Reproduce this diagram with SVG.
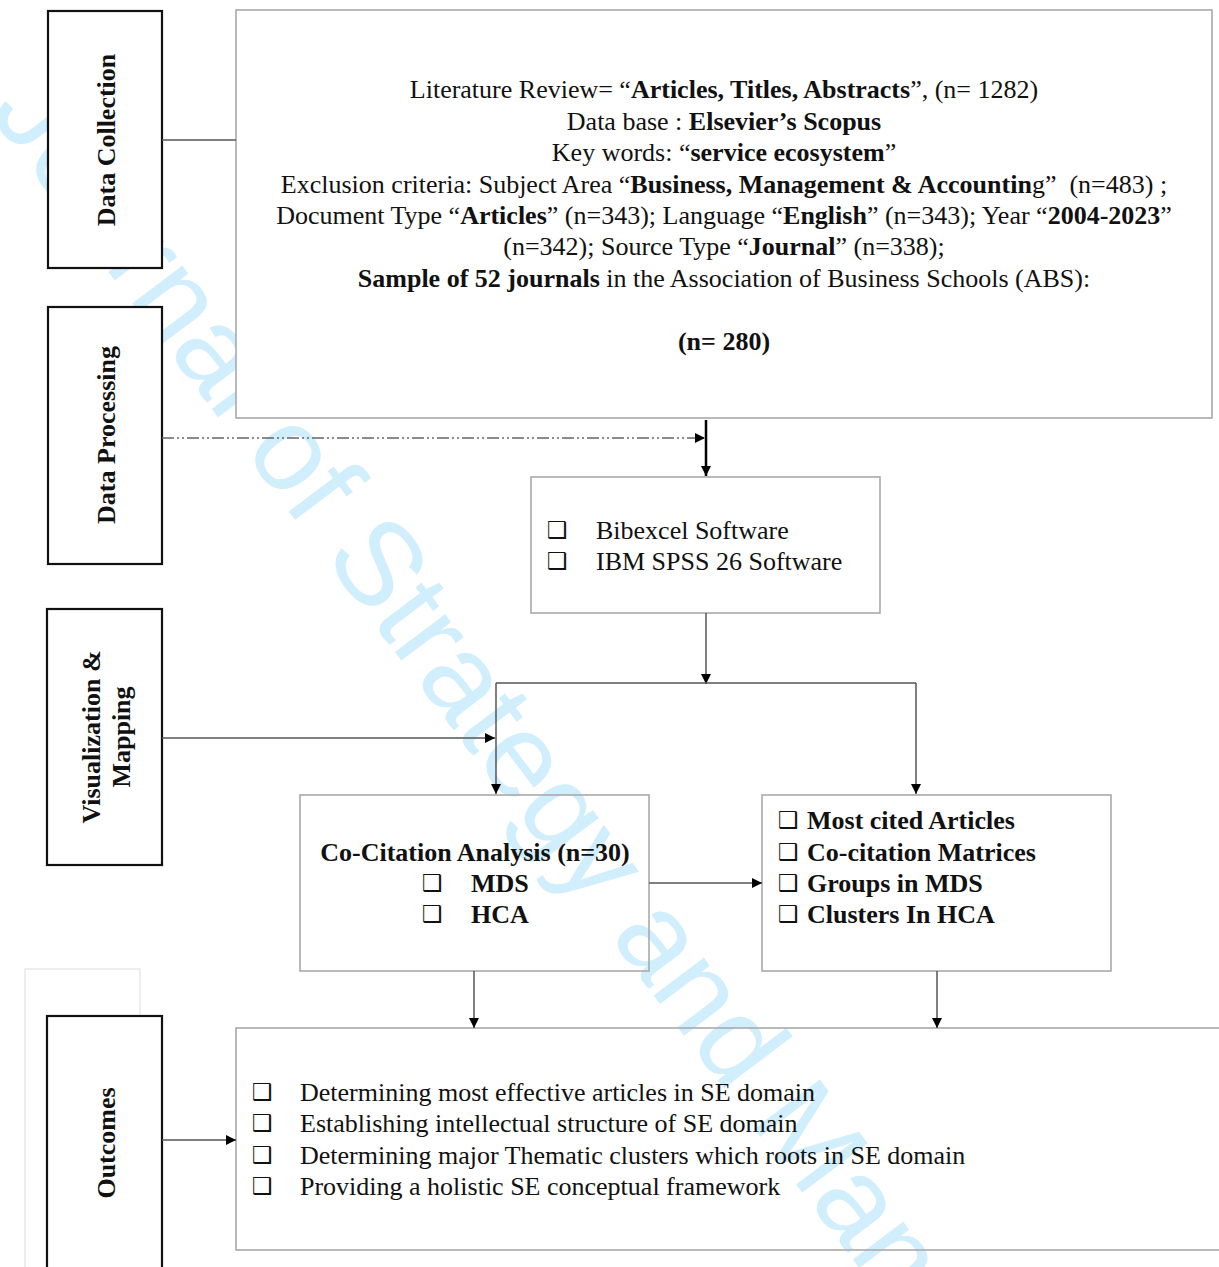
<svg xmlns="http://www.w3.org/2000/svg" width="1219" height="1267" viewBox="0 0 1219 1267">
<style>
.stage{fill:#fff;stroke:#111;stroke-width:2.2}
.box{fill:none;stroke:#a9a9a9;stroke-width:1.6}
.boxw{fill:#fff;stroke:#a9a9a9;stroke-width:1.6}
.t{font-family:"Liberation Serif","Times New Roman",serif;font-size:26px;fill:#111}
.b{font-weight:bold}
.lbl{font-family:"Liberation Serif","Times New Roman",serif;font-size:26px;font-weight:bold;fill:#111;text-anchor:middle}
.cb{font-family:"DejaVu Sans",sans-serif;font-size:23px;fill:#111}
.c{text-anchor:middle}
.ln{fill:none;stroke:#555;stroke-width:1.5}
.wm{font-family:"Liberation Sans",Arial,sans-serif;font-size:119px;fill:#d0eefc}
</style>
<defs>
<marker id="ah" markerUnits="userSpaceOnUse" markerWidth="11" markerHeight="11" refX="10" refY="5" orient="auto">
<path d="M0,0 L10,5 L0,10 z" fill="#000"/>
</marker>
</defs>
<rect width="1219" height="1267" fill="#fff"/>

<text class="wm" transform="translate(-12,112) rotate(53)">Journal of Strategy and Management</text>

<rect x="25" y="969" width="115" height="310" fill="none" stroke="#e3e3e3" stroke-width="1.2"/>

<g id="stage-collection">
<rect class="stage" x="48" y="11" width="114" height="257"/>
<text class="lbl" transform="translate(115,140) rotate(-90)">Data Collection</text>
</g>
<g id="stage-processing">
<rect class="stage" x="48" y="307" width="114" height="257"/>
<text class="lbl" transform="translate(115,435) rotate(-90)">Data Processing</text>
</g>
<g id="stage-visualization">
<rect class="stage" x="47" y="609" width="115" height="256"/>
<text class="lbl" transform="translate(100,737) rotate(-90)">Visualization &amp;</text>
<text class="lbl" transform="translate(130,737) rotate(-90)">Mapping</text>
</g>
<g id="stage-outcomes">
<rect class="stage" x="47" y="1016" width="115" height="270"/>
<text class="lbl" transform="translate(115,1143) rotate(-90)">Outcomes</text>
</g>

<g id="literature-review">
<rect class="boxw" x="236" y="10" width="976" height="408"/>
<text class="t c" x="724" y="98">Literature Review= “<tspan class="b">Articles, Titles, Abstracts</tspan>”, (n= 1282)</text>
<text class="t c" x="724" y="130">Data base : <tspan class="b">Elsevier’s Scopus</tspan></text>
<text class="t c" x="724" y="161">Key words: “<tspan class="b">service ecosystem</tspan>”</text>
<text class="t c" x="724" y="193">Exclusion criteria: Subject Area “<tspan class="b">Business, Management &amp; Accountin</tspan>g” &#160;(n=483) ;</text>
<text class="t c" x="724" y="224">Document Type “<tspan class="b">Articles</tspan>” (n=343); Language “<tspan class="b">English</tspan>” (n=343); Year “<tspan class="b">2004-2023</tspan>”</text>
<text class="t c" x="724" y="255">(n=342); Source Type “<tspan class="b">Journal</tspan>” (n=338);</text>
<text class="t c" x="724" y="287"><tspan class="b">Sample of 52 journals</tspan> in the Association of Business Schools (ABS):</text>
<text class="t c b" x="724" y="350">(n= 280)</text>
</g>

<g id="software">
<rect class="box" x="531" y="477" width="349" height="136"/>
<text class="cb" x="547" y="538">❑</text>
<text class="t" x="596" y="539">Bibexcel Software</text>
<text class="cb" x="547" y="569">❑</text>
<text class="t" x="596" y="570">IBM SPSS 26 Software</text>
</g>

<g id="co-citation">
<rect class="box" x="300" y="795" width="349" height="176"/>
<text class="t c b" x="475" y="861">Co-Citation Analysis (n=30)</text>
<text class="cb" x="422" y="891">❑</text>
<text class="t b" x="471" y="892">MDS</text>
<text class="cb" x="422" y="922">❑</text>
<text class="t b" x="471" y="923">HCA</text>
</g>

<g id="results">
<rect class="box" x="762" y="795" width="349" height="176"/>
<text class="cb" x="778" y="828">❑</text>
<text class="t b" x="807" y="829">Most cited Articles</text>
<text class="cb" x="778" y="860">❑</text>
<text class="t b" x="807" y="861">Co-citation Matrices</text>
<text class="cb" x="778" y="891">❑</text>
<text class="t b" x="807" y="892">Groups in MDS</text>
<text class="cb" x="778" y="922">❑</text>
<text class="t b" x="807" y="923">Clusters In HCA</text>
</g>

<g id="outcomes">
<rect class="box" x="236" y="1028" width="990" height="222"/>
<text class="cb" x="252" y="1100">❑</text>
<text class="t" x="300" y="1101">Determining most effective articles in SE domain</text>
<text class="cb" x="252" y="1131">❑</text>
<text class="t" x="300" y="1132">Establishing intellectual structure of SE domain</text>
<text class="cb" x="252" y="1163">❑</text>
<text class="t" x="300" y="1164">Determining major Thematic clusters which roots in SE domain</text>
<text class="cb" x="252" y="1194">❑</text>
<text class="t" x="300" y="1195">Providing a holistic SE conceptual framework</text>
</g>

<g id="connectors">
<path class="ln" d="M162,140 H236"/>
<path d="M162,438 H705" fill="none" stroke="#666" stroke-width="1.6" stroke-dasharray="12 3 2 3 2 3" marker-end="url(#ah)"/>
<path d="M706,420 V476" fill="none" stroke="#000" stroke-width="2.5" marker-end="url(#ah)"/>
<path class="ln" d="M706,613 V684" marker-end="url(#ah)"/>
<path class="ln" d="M496,683 H916"/>
<path class="ln" d="M496,683 V794" marker-end="url(#ah)"/>
<path class="ln" d="M916,683 V794" marker-end="url(#ah)"/>
<path class="ln" d="M162,738 H495" marker-end="url(#ah)"/>
<path class="ln" d="M649,883 H762" marker-end="url(#ah)"/>
<path class="ln" d="M474,971 V1028" marker-end="url(#ah)"/>
<path class="ln" d="M937,971 V1028" marker-end="url(#ah)"/>
<path class="ln" d="M162,1140 H236" marker-end="url(#ah)"/>
</g>
</svg>
